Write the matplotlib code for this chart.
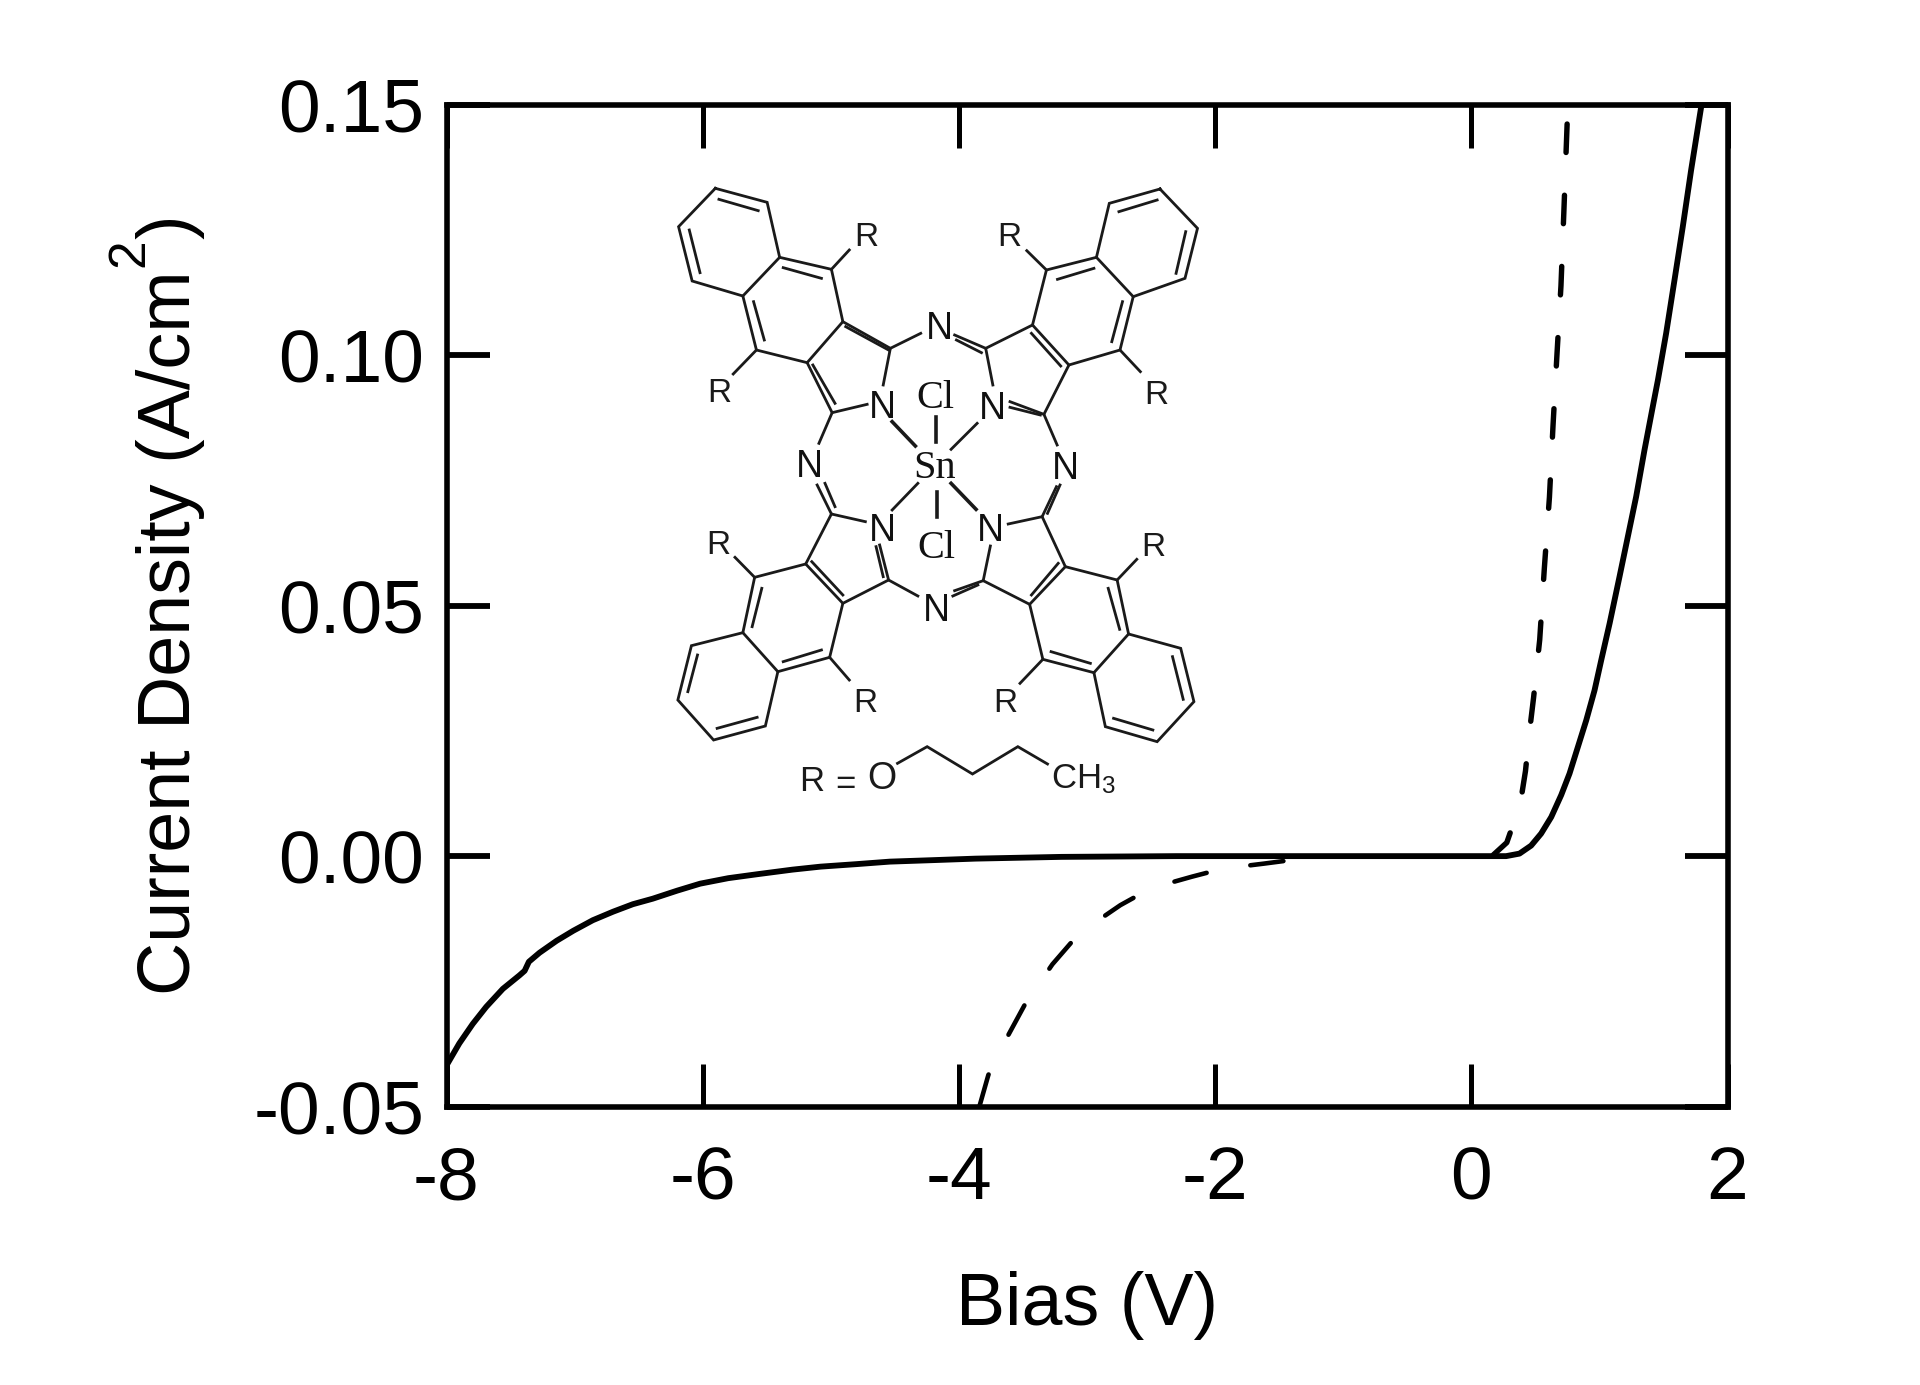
import numpy as np
import matplotlib
matplotlib.use("Agg")
import matplotlib.pyplot as plt

plt.rcParams["font.family"] = ["Liberation Sans", "DejaVu Sans"]
plt.rcParams["axes.unicode_minus"] = False
plt.rcParams["lines.scale_dashes"] = False
plt.rcParams["mathtext.fontset"] = "custom"
plt.rcParams["mathtext.rm"] = "Liberation Sans"
plt.rcParams["mathtext.default"] = "regular"

x_ticks = [-8, -6, -4, -2, 0, 2]
y_ticks = [-0.05, 0.00, 0.05, 0.10, 0.15]
y_ticklabels = ["-0.05", "0.00", "0.05", "0.10", "0.15"]

# solid curve
solid_v = [-8.0, -7.9, -7.795, -7.69, -7.56, -7.43, -7.39, -7.357, -7.274, -7.14, -7.01,
           -6.858, -6.70, -6.545, -6.39, -6.2, -6.02, -5.8, -5.57, -5.3, -5.08, -4.8, -4.54,
           -4.2, -3.87, -3.2, -2.3, -1.0, 0.1, 0.272, 0.376, 0.467, 0.545, 0.624, 0.702,
           0.767, 0.832, 0.897, 0.962, 1.014, 1.08, 1.157, 1.222, 1.287, 1.352, 1.417,
           1.457, 1.521, 1.586, 1.651, 1.716, 1.795]
solid_j = [-0.0418, -0.0374, -0.0335, -0.0301, -0.0265, -0.0238, -0.0229, -0.0211, -0.0193,
           -0.0169, -0.0149, -0.0128, -0.0111, -0.0096, -0.0085, -0.0069, -0.0055, -0.0044,
           -0.0036, -0.0027, -0.0021, -0.0016, -0.0011, -0.0008, -0.0005, -0.00015, 0.0, 0.0,
           0.0, 0.0, 0.0005, 0.0021, 0.0045, 0.0078, 0.0122, 0.0165, 0.0218, 0.0271, 0.0331,
           0.0391, 0.0465, 0.0558, 0.0638, 0.0718, 0.0811, 0.0898, 0.0951, 0.1044, 0.115,
           0.1257, 0.137, 0.1497]

# dashed curve, reverse part from the axis bottom up to the zero line
dash_left_v = [-3.84, -3.77, -3.62, -3.48, -3.27, -3.06, -2.74, -2.5, -2.18, -1.94, -1.62, -1.38]
dash_left_j = [-0.05, -0.0437, -0.036, -0.0294, -0.0216, -0.0154, -0.0098, -0.0064, -0.0041,
               -0.0025, -0.0015, -0.0007]

# dashed curve, forward part from the top down
dash_right_v = [0.748, 0.722, 0.70, 0.669, 0.638, 0.61, 0.57, 0.534, 0.486, 0.454, 0.423,
                0.382, 0.277, 0.17, 0.10]
dash_right_j = [0.1462, 0.1283, 0.1139, 0.1003, 0.086, 0.0717, 0.0574, 0.0432, 0.0316, 0.0248,
                0.017, 0.0104, 0.0027, 0.0002, 0.0]

# structure drawing, in crop pixels of the top half and bottom half
top_bonds = [
    [(155, 55), (300, 97), (335, 262), (232, 378), (90, 333), (52, 170), (155, 55)],
    [(165, 88), (275, 122)], [(82, 180), (112, 308)],
    [(335, 262), (480, 298), (512, 455), (412, 578), (270, 540), (232, 378)],
    [(345, 293), (452, 325)], [(262, 395), (292, 510)],
    [(480, 298), (530, 240)], [(270, 540), (205, 612)],
    [(512, 455), (645, 535), (625, 645)], [(520, 470), (640, 540)],
    [(412, 578), (482, 728), (580, 703)], [(428, 585), (490, 700)],
    [(645, 535), (730, 490)], [(482, 728), (445, 820)],
    [(1400, 57), (1505, 175), (1470, 325), (1325, 380), (1222, 262), (1258, 100), (1400, 57)],
    [(1285, 125), (1392, 90)], [(1472, 185), (1445, 310)],
    [(1222, 262), (1082, 300), (1043, 465), (1145, 585), (1288, 540), (1325, 380)],
    [(1113, 328), (1215, 295)], [(1295, 395), (1265, 515)],
    [(1082, 300), (1027, 242)], [(1288, 540), (1345, 605)],
    [(1043, 465), (912, 535), (932, 645)], [(1145, 585), (1075, 733), (980, 695)],
    [(980, 712), (1065, 735)], [(1040, 490), (1122, 588)],
    [(912, 535), (825, 495)], [(830, 510), (900, 548)], [(1075, 733), (1112, 825)],
    [(888, 760), (815, 838)],
]
top_heavy = [[(650, 755), (715, 828)], [(772, 742), (772, 815)]]

bottom_bonds = [
    [(480, 132), (440, 45)], [(490, 110), (462, 40)], [(650, 120), (722, 40)],
    [(480, 132), (575, 155)], [(480, 132), (408, 282), (512, 400), (640, 330), (615, 225)],
    [(625, 320), (605, 230)], [(425, 275), (512, 375)], [(640, 330), (722, 378)],
    [(265, 322), (210, 262)],
    [(408, 282), (265, 322), (232, 488), (330, 605), (475, 562), (512, 400)],
    [(285, 355), (258, 470)], [(345, 575), (452, 540)],
    [(232, 488), (88, 527), (50, 690), (150, 810), (295, 768), (330, 605)],
    [(105, 555), (78, 665)], [(160, 775), (272, 742)], [(475, 562), (530, 630)],
    [(975, 162), (1070, 140), (1135, 290), (1035, 403), (905, 332), (925, 228)],
    [(1115, 280), (1040, 375)], [(905, 332), (825, 362)], [(820, 378), (890, 345)],
    [(1070, 140), (1110, 50)], [(1085, 130), (1120, 45)],
    [(1280, 330), (1335, 268)],
    [(1135, 290), (1280, 330), (1312, 492), (1215, 608), (1072, 568), (1035, 403)],
    [(1255, 355), (1287, 478)], [(1095, 545), (1205, 580)],
    [(1312, 492), (1458, 535), (1495, 695), (1392, 815), (1247, 770), (1215, 608)],
    [(1435, 560), (1465, 688)], [(1270, 745), (1380, 780)], [(1072, 568), (1008, 640)],
    [(665, 880), (748, 830), (875, 912), (1002, 830), (1085, 882)],
]
bottom_heavy = [[(815, 40), (885, 118)], [(775, 65), (775, 140)]]

top_labels = [("R", 578, 190), ("R", 165, 660), ("R", 978, 190), ("R", 1390, 665)]
top_n = [(782, 465), (622, 703), (930, 705), (418, 880), (1135, 885)]
bottom_labels = [("R", 162, 215), ("R", 575, 690), ("R", 1380, 220), ("R", 968, 690)]
bottom_n = [(622, 170), (925, 170), (775, 410)]

text_shift = 4


def top_px(p):
    return 660 + p[0] / 2.8, 170 + p[1] / 3


def bottom_px(p):
    return 660 + p[0] / 2.8, 470 + p[1] / 3


def draw_structure(ax):
    for bonds, conv, lw in [(top_bonds, top_px, 2.0), (bottom_bonds, bottom_px, 2.0),
                            (top_heavy, top_px, 2.6), (bottom_heavy, bottom_px, 2.6)]:
        for bond in bonds:
            xy = np.array([conv(p) for p in bond])
            ax.plot(xy[:, 0], xy[:, 1], color="#1a1a1a", lw=lw, solid_joinstyle="miter")

    for labels, conv in [(top_labels, top_px), (bottom_labels, bottom_px)]:
        for s, x, y in labels:
            px, py = conv((x, y))
            ax.text(px, py + text_shift, s, fontsize=24, ha="center", va="center", color="#1a1a1a")

    for pts, conv in [(top_n, top_px), (bottom_n, bottom_px)]:
        for x, y in pts:
            px, py = conv((x, y))
            ax.text(px, py + text_shift, "N", fontsize=27, ha="center", va="center",
                    color="#111111", family=["Liberation Sans Narrow", "Liberation Sans"])

    for s, p, conv in [("Cl", (772, 672), top_px), ("Sn", (768, 885), top_px),
                       ("Cl", (775, 225), bottom_px)]:
        px, py = conv(p)
        ax.text(px, py + text_shift, s, fontsize=29, ha="center", va="center", color="#111111",
                family="Liberation Serif")

    for s, p, size in [("R", (425, 922), 25), ("=", (518, 930), 25), ("O", (620, 916), 27)]:
        px, py = bottom_px(p)
        ax.text(px, py + text_shift, s, fontsize=size, ha="center", va="center", color="#1a1a1a")
    px, py = bottom_px((1095, 916))
    ax.text(px, py + text_shift, "CH$_3$", fontsize=25, ha="left", va="center", color="#1a1a1a")


def main():
    fig = plt.figure(figsize=(19.2, 13.85), dpi=100)
    ax = fig.add_axes([446.5 / 1920, 1 - 1106.5 / 1385, 1281 / 1920, 1001.5 / 1385])

    ax.plot(solid_v, solid_j, color="black", lw=4.2, solid_joinstyle="round")
    ax.plot(dash_left_v, dash_left_j, color="black", lw=3.3, dashes=(24, 32),
            dash_capstyle="round")
    ax.plot(dash_right_v, dash_right_j, color="black", lw=3.9, dashes=(20.5, 30.8),
            dash_capstyle="round")

    ax.set_xlim(-8, 2)
    ax.set_ylim(-0.05, 0.15)
    ax.set_xticks(x_ticks)
    ax.set_yticks(y_ticks)
    ax.set_yticklabels(y_ticklabels, va="center_baseline")
    ax.tick_params(axis="both", direction="in", top=True, right=True, length=31, labelsize=54)
    ax.tick_params(axis="x", pad=28, width=3.6)
    ax.tick_params(axis="y", pad=16, width=4.2)
    for spine in ax.spines.values():
        spine.set_linewidth(4)

    ax.set_xlabel("Bias (V)", fontsize=53, labelpad=41)

    overlay = fig.add_axes([0, 0, 1, 1])
    overlay.set_xlim(0, 1920)
    overlay.set_ylim(1385, 0)
    overlay.axis("off")

    # y label is split so the exponent can sit as high as in the original
    for s, bx, by, size in [("Current Density (A/cm", 190, 995, 53), ("2", 143, 267, 37),
                            (")", 190, 239, 53)]:
        overlay.text(bx, by, s, fontsize=size, rotation=90, rotation_mode="anchor",
                     ha="left", va="baseline", color="black")

    draw_structure(overlay)

    fig.savefig("out.png", dpi=100, facecolor="white")


if __name__ == "__main__":
    main()
